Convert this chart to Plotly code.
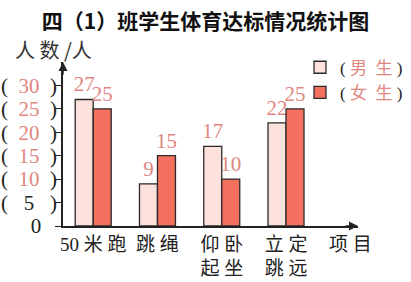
import plotly.graph_objects as go

NB = "\u00a0"
categories = ["50" + NB + "米" + NB + "跑", "跳 绳", "仰 卧<br>起 坐", "立 定<br>跳 远"]
cat_pos = [0, 1, 2, 3]
male = [27, 9, 17, 22]
female = [25, 15, 10, 25]
y_ticks = [0, 5, 10, 15, 20, 25, 30]

PINK = "#e0867f"
FONT = "Liberation Serif, Noto Sans CJK SC, serif"


def ytick_label(v):
    if v == 0:
        return "0" + NB * 3
    if v == 5:
        return "(" + NB * 3 + "5" + NB * 3 + ")"
    return "(" + NB * 2 + f"<span style='color:{PINK}'>{v}</span>" + NB * 2 + ")"


def legend_name(s):
    a, b = s
    return "(" + NB + f"<span style='color:{PINK}'>{a}" + NB * 2 + f"{b}</span>" + NB + ")"


fig = go.Figure()
fig.add_trace(go.Bar(
    x=cat_pos, y=male, name=legend_name("男生"),
    marker=dict(color="#fde1dc", line=dict(color="#2a2a2a", width=1.3)),
    text=[str(v) for v in male], textposition="outside", constraintext="none",
    textfont=dict(color=PINK, size=21, family=FONT), cliponaxis=False,
))
fig.add_trace(go.Bar(
    x=cat_pos, y=female, name=legend_name("女生"),
    marker=dict(color="#f4705f", line=dict(color="#2a2a2a", width=1.3)),
    text=[str(v) for v in female], textposition="outside", constraintext="none",
    textfont=dict(color=PINK, size=21, family=FONT), cliponaxis=False,
))

fig.update_layout(
    width=411, height=282,
    margin=dict(l=63, r=53, t=62, b=56, autoexpand=False),
    paper_bgcolor="white", plot_bgcolor="white",
    barmode="group", bargap=0.44, bargroupgap=0,
    font=dict(family=FONT, color="#222"),
    title=dict(text="<b>四（1）班学生体育达标情况统计图</b>", x=0.5, xanchor="center",
               y=1 - 22 / 282, yanchor="middle", yref="container",
               font=dict(size=21, family="Noto Sans CJK SC", color="#111")),
    showlegend=True,
    legend=dict(x=(300 - 63) / 295, y=1.075, xanchor="left", yanchor="top",
                font=dict(size=17, family=FONT, color="#222"),
                bgcolor="rgba(0,0,0,0)", itemwidth=30, tracegroupgap=0),
    xaxis=dict(range=[-0.47, 4.12], tickvals=cat_pos + [4], ticktext=categories + ["项 目"],
               showline=True, linecolor="#222", linewidth=1.5, ticks="", automargin=False,
               showgrid=False, zeroline=False, tickfont=dict(size=19, family=FONT, color="#222")),
    yaxis=dict(range=[0, 35], tickvals=y_ticks, ticktext=[ytick_label(v) for v in y_ticks],
               showline=True, linecolor="#222", linewidth=1.5, ticks="outside", ticklen=6,
               tickcolor="#222", showgrid=False, zeroline=False, automargin=False,
               ticklabelstandoff=-6,
               tickfont=dict(size=21, family=FONT, color="#222")),
    annotations=[
        dict(text="人 数 /人", xref="paper", yref="paper", x=(13 - 63) / 295, y=(226 - 50) / 164,
             xanchor="left", yanchor="middle", showarrow=False,
             font=dict(size=20, family="Noto Sans CJK SC", color="#333")),
        dict(x=0, y=1.0, xref="paper", yref="paper", ax=0, ay=14, axref="pixel", ayref="pixel",
             showarrow=True, arrowhead=2, arrowsize=1.2, arrowwidth=1.5, arrowcolor="#222", text=""),
        dict(x=1.0, y=0, xref="paper", yref="paper", ax=-14, ay=0, axref="pixel", ayref="pixel",
             showarrow=True, arrowhead=2, arrowsize=1.2, arrowwidth=1.5, arrowcolor="#222", text=""),
    ],
)

fig.write_html("out.html")
